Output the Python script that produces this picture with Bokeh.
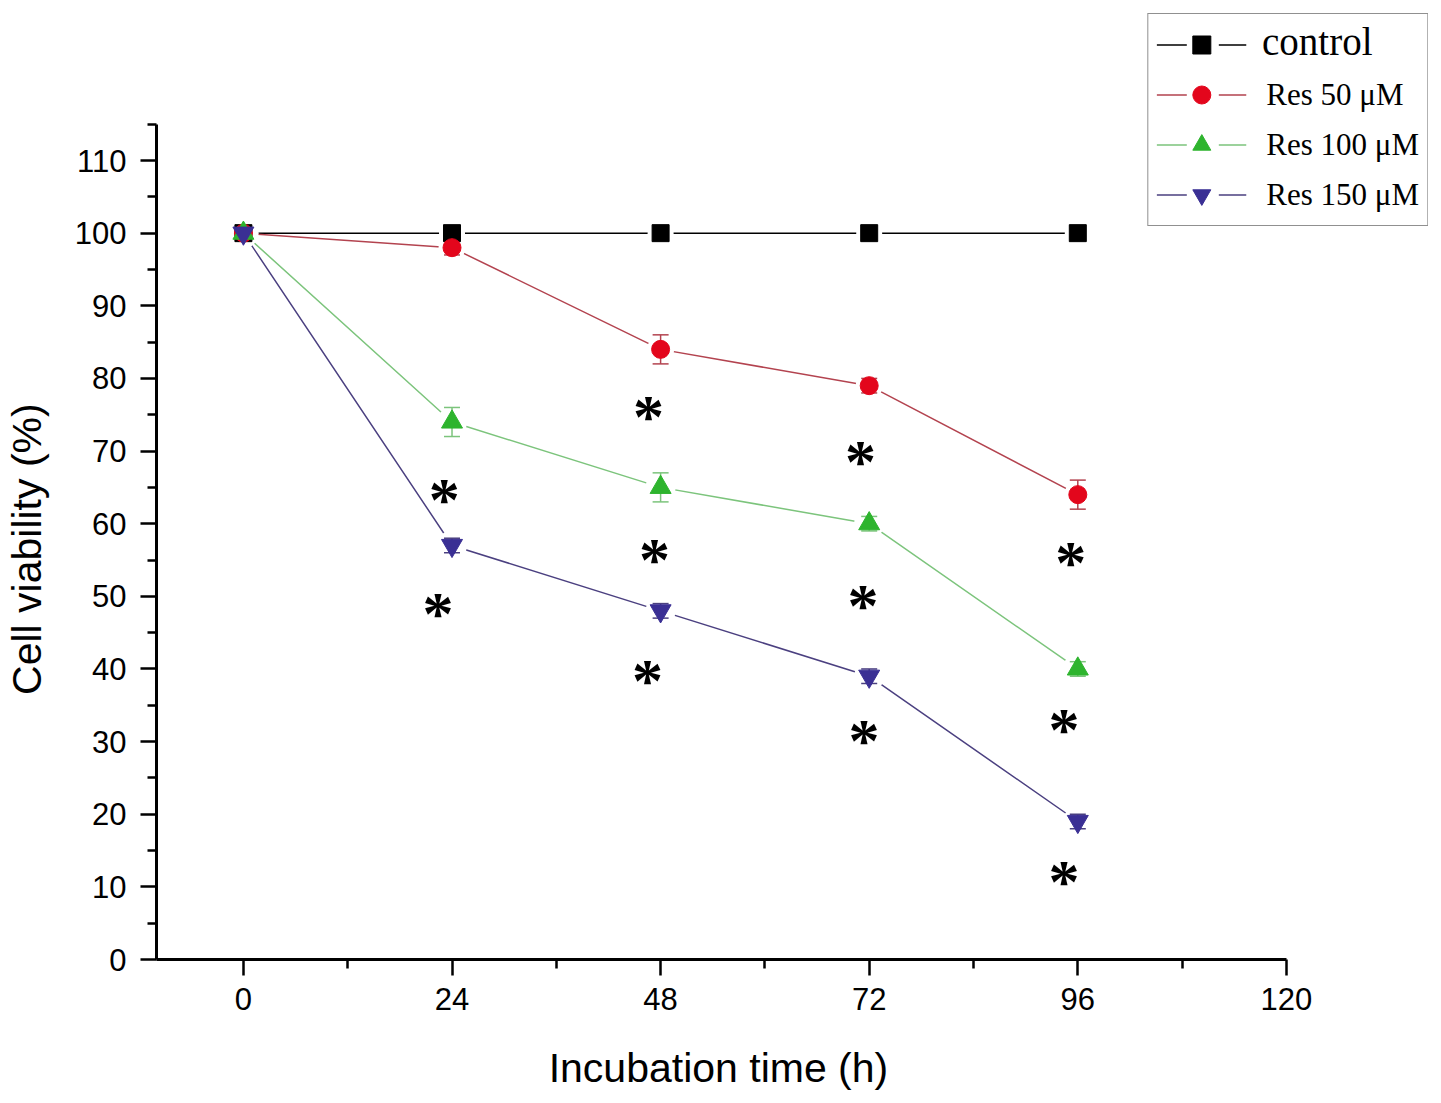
import numpy as np
from bokeh.core.properties import value
from bokeh.embed import file_html
from bokeh.models import ColumnDataSource, FixedTicker, Legend, LegendItem, Range1d
from bokeh.plotting import figure
from bokeh.resources import INLINE

# Data - cell viability (%) over incubation time for resveratrol doses
hours = [0, 24, 48, 72, 96]
control = [100, 100, 100, 100, 100]
res_50 = [100, 98, 84, 79, 64]
res_100 = [100, 74, 65, 60, 40]
res_150 = [100, 57, 48, 39, 19]
err_control = [0, 0, 0, 0, 0]
err_50 = [0, 1, 2, 1, 2]
err_100 = [0, 2, 2, 1, 1]
err_150 = [0, 1, 1, 1, 1]

# significance asterisks, where they sit on the figure
star_x = [23.1, 22.4, 46.6, 47.3, 46.5, 71.0, 71.3, 71.4, 95.2, 94.4, 94.4]
star_y = [64.2, 48.5, 75.6, 55.9, 39.3, 69.4, 49.7, 31.1, 55.6, 32.6, 11.6]

x_ticks = [0, 24, 48, 72, 96, 120]
y_ticks = list(range(0, 111, 10))

series = [
    ("control", control, err_control, "square", 17, "#000000", "#000000"),
    ("Res 50 μM", res_50, err_50, "circle", 18, "#E3061C", "#B3434F"),
    ("Res 100 μM", res_100, err_100, "triangle", 21, "#2EB42E", "#7CC47C"),
    ("Res 150 μM", res_150, err_150, "inverted_triangle", 21, "#3A2F94", "#4B4080"),
]

# Plot - the frame also holds the legend corner, the axes stop at 120 h / 115 %
p = figure(
    width=1433,
    height=1095,
    x_range=Range1d(-10, 136.35),
    y_range=Range1d(0, 130.24),
    output_backend="svg",
    toolbar_location=None,
    min_border_left=156,
    min_border_right=5,
    min_border_top=13,
    min_border_bottom=136,
)

# lines first, then white gaps around the points, error bars, points
for name, vals, errs, marker, size, mcolor, lcolor in series:
    p.line(hours, vals, line_color=lcolor, line_width=1.5)

for name, vals, errs, marker, size, mcolor, lcolor in series:
    p.scatter(hours, vals, marker="circle", size=size + 9, fill_color="white", line_color=None)

for name, vals, errs, marker, size, mcolor, lcolor in series:
    x = np.array(hours, dtype=float)
    v = np.array(vals, dtype=float)
    e = np.array(errs, dtype=float)
    m = e > 0
    if not m.any():
        continue
    src = ColumnDataSource(data={"x": x[m], "lo": v[m] - e[m], "hi": v[m] + e[m]})
    p.segment(x0="x", y0="lo", x1="x", y1="hi", source=src, line_color=lcolor, line_width=1.5)
    p.scatter(x="x", y="hi", source=src, marker="dash", size=16, line_color=lcolor, line_width=1.5)
    p.scatter(x="x", y="lo", source=src, marker="dash", size=16, line_color=lcolor, line_width=1.5)

marks = []
keys = []
for name, vals, errs, marker, size, mcolor, lcolor in series:
    r = p.scatter(hours, vals, marker=marker, size=size, fill_color=mcolor, line_color=mcolor, line_width=1)
    marks.append(r)
    # legend-only line (no visible data) with a break where the symbol sits
    keys.append(p.line([np.nan, np.nan], [np.nan, np.nan], line_color=lcolor, line_width=1.5, line_dash="30 32 28"))

# asterisks
star_src = ColumnDataSource(data={"x": star_x, "y": star_y, "t": ["*"] * len(star_x)})
p.text(
    x="x",
    y="y",
    text="t",
    source=star_src,
    text_font=value("Liberation Serif"),
    text_font_style="bold",
    text_font_size="62px",
    text_align="center",
    text_baseline="alphabetic",
    y_offset=6,
    text_color="#000000",
)

# Legend - framed box in the top right corner; the first label is drawn bigger by a second legend
legend = Legend(
    items=[
        LegendItem(label=" " if i == 0 else s[0], renderers=[keys[i], marks[i]])
        for i, s in enumerate(series)
    ],
    location="top_right",
    margin=0,
    padding=8,
    spacing=5,
    glyph_height=45,
    glyph_width=90,
    label_standoff=20,
    label_text_font="Liberation Serif",
    label_text_font_size="31px",
    label_text_color="#000000",
    border_line_color="#222222",
    border_line_width=1.5,
    background_fill_color="white",
    background_fill_alpha=1,
)
p.add_layout(legend)

legend_top = Legend(
    items=[LegendItem(label=series[0][0], renderers=[keys[0]])],
    location=(1106, 893),
    margin=0,
    padding=0,
    glyph_width=0,
    glyph_height=50,
    label_height=50,
    label_standoff=0,
    label_text_font="Liberation Serif",
    label_text_font_size="39px",
    label_text_color="#000000",
    border_line_color=None,
    background_fill_alpha=0,
)
p.add_layout(legend_top)

# Axes
p.xaxis.bounds = (-10, 120)
p.yaxis.bounds = (0, 115)
p.xaxis.ticker = FixedTicker(ticks=x_ticks, minor_ticks=[(a + b) / 2 for a, b in zip(x_ticks, x_ticks[1:])])
p.yaxis.ticker = FixedTicker(ticks=y_ticks, minor_ticks=[t + 5 for t in y_ticks])
# axis labels are centred on the whole frame; trailing no-break spaces pull them back
# to the middle of the drawn axes
p.xaxis.axis_label = "Incubation time (h)" + "\u00a0" * 13
p.yaxis.axis_label = "Cell viability (%)" + "\u00a0" * 11

for ax in (p.xaxis, p.yaxis):
    ax.axis_label_text_font = "Liberation Sans"
    ax.axis_label_text_font_size = "41px"
    ax.axis_label_text_font_style = "normal"
    ax.axis_label_text_color = "#000000"
    ax.major_label_text_font = "Liberation Sans"
    ax.major_label_text_font_size = "31px"
    ax.major_label_text_color = "#000000"
    ax.axis_line_width = 3
    ax.axis_line_color = "#000000"
    ax.major_tick_line_width = 2.5
    ax.minor_tick_line_width = 2.5
    ax.major_tick_line_color = "#000000"
    ax.minor_tick_line_color = "#000000"
    ax.major_tick_in = 0
    ax.minor_tick_in = 0
    ax.major_tick_out = 16
    ax.minor_tick_out = 9

p.xaxis.major_label_standoff = 12
p.yaxis.major_label_standoff = 14
p.xaxis.axis_label_standoff = 32
p.yaxis.axis_label_standoff = 22

p.xgrid.visible = False
p.ygrid.visible = False
p.outline_line_color = None
p.background_fill_color = "white"
p.border_fill_color = "white"

open("out.html", "w").write(file_html(p, INLINE))
